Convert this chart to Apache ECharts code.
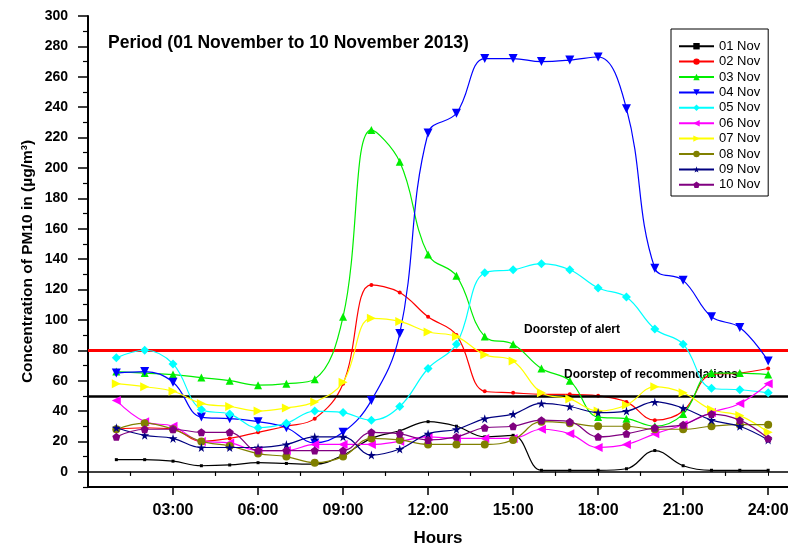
<html>
<head>
    <title>PM10 November 2013</title>
    <script src="https://cdn.jsdelivr.net/npm/echarts@6.0.0/dist/echarts.min.js"></script>
</head>
<body style="margin:0">
    <div id="main" style="width:788px;height:546px;"></div>
    <script type="text/javascript">
        // hourly PM10 readings
        var hours = [1, 2, 3, 4, 5, 6, 7, 8, 9, 10, 11, 12, 13, 14, 15, 16, 17, 18, 19, 20, 21, 22, 23, 24];
        var nov01 = [8, 8, 7, 4, 4.5, 6, 5.5, 5, 11, 22, 27, 33, 30, 23, 24, 1, 1, 1, 2, 14, 4, 1, 1, 1];
        var nov02 = [28, 29, 28, 20, 22, 26, 30, 35, 58, 123, 118, 102, 90, 53, 52, 51, 51, 50, 46, 34, 40, 64, 65, 68];
        var nov03 = [66, 65, 64, 62, 60, 57, 58, 61, 102, 225, 204, 143, 129, 89, 84, 68, 60, 36, 35, 30, 38, 65, 65, 64];
        var nov04 = [65, 66, 59, 36, 35, 33, 29, 19, 26, 47, 91, 223, 236, 272, 272, 270, 271, 273, 239, 134, 126, 102, 95, 73];
        var nov05 = [75, 80, 71, 41, 38, 29, 32, 40, 39, 34, 43, 68, 84, 131, 133, 137, 133, 121, 115, 94, 84, 55, 54, 52];
        var nov06 = [47, 33, 30, 20, 19, 14, 14, 18, 18, 18, 20, 23, 22, 22, 22, 28, 25, 16, 18, 25, 31, 39, 45, 58];
        var nov07 = [58, 56, 53, 45, 43, 40, 42, 46, 59, 101, 99, 92, 89, 77, 73, 52, 48, 40, 44, 56, 52, 41, 37, 26];
        var nov08 = [28, 32, 28, 20, 17, 12, 10, 6, 10, 22, 21, 18, 18, 18, 21, 33, 32, 30, 30, 28, 28, 30, 31, 31];
        var nov09 = [29, 24, 22, 16, 16, 16, 18, 23, 23, 11, 15, 25, 28, 35, 38, 45, 43, 39, 40, 46, 42, 34, 30, 21];
        var nov10 = [23, 28, 28, 26, 26, 14, 14, 14, 14, 26, 25, 21, 23, 29, 30, 34, 33, 23, 25, 29, 31, 38, 34, 22];

        var days = ['01 Nov', '02 Nov', '03 Nov', '04 Nov', '05 Nov', '06 Nov', '07 Nov', '08 Nov', '09 Nov', '10 Nov'];
        var dayValues = [nov01, nov02, nov03, nov04, nov05, nov06, nov07, nov08, nov09, nov10];

        var alertLevel = 80;
        var recommendLevel = 50;

        var yTicks = [0, 20, 40, 60, 80, 100, 120, 140, 160, 180, 200, 220, 240, 260, 280, 300];
        var yMinorTicks = [-10, 10, 30, 50, 70, 90, 110, 130, 150, 170, 190, 210, 230, 250, 270, 290];
        var xTicks = [3, 6, 9, 12, 15, 18, 21, 24];
        var xMinorTicks = [1.5, 4.5, 7.5, 10.5, 13.5, 16.5, 19.5, 22.5];

        var colors = ['#000000', '#ff0000', '#00ee00', '#0000ff', '#00ffff', '#ff00ff', '#ffff00', '#808000', '#000080', '#800080'];
        var star = 'path://M50,0 L61,35 L98,35 L68,57 L79,91 L50,70 L21,91 L32,57 L2,35 L39,35 Z';
        var pentagon = 'path://M50,0 L98,36 L80,95 L20,95 L2,36 Z';
        var symbols = ['rect', 'circle', 'triangle', 'triangle', 'diamond', 'triangle', 'triangle', 'circle', star, pentagon];
        var rotates = [0, 0, 0, 180, 0, 90, -90, 0, 0, 0];
        var sizes = [3, 4, 8, 9, 9, 9, 9, 8, 9, 8];

        var font = 'Arial, "Liberation Sans", sans-serif';

        var series = [];
        for (var i = 0; i < days.length; i++) {
            var pts = [];
            for (var j = 0; j < hours.length; j++) {
                pts.push([hours[j], dayValues[i][j]]);
            }
            series.push({
                name: days[i],
                type: 'line',
                smooth: 0.4,
                data: pts,
                symbol: symbols[i],
                symbolRotate: rotates[i],
                symbolSize: sizes[i],
                showAllSymbol: true,
                itemStyle: { color: colors[i] },
                lineStyle: { color: colors[i], width: 1.2 },
                z: 3 + i
            });
        }
        series[0].markLine = {
            silent: true,
            symbol: 'none',
            label: { show: false },
            data: [
                { yAxis: alertLevel, lineStyle: { color: '#ff0000', width: 3, type: 'solid' } },
                { yAxis: recommendLevel, lineStyle: { color: '#000000', width: 2.5, type: 'solid' } }
            ]
        };

        var myChart = echarts.init(document.getElementById('main'));
        var option = {
            animation: false,
            backgroundColor: '#ffffff',
            grid: { left: 88, right: 0, top: 16, bottom: 59, outerBoundsMode: 'none', containLabel: false },
            legend: {
                data: days,
                orient: 'vertical',
                left: 671,
                top: 29,
                padding: [6, 8, 0, 7],
                itemWidth: 35,
                itemHeight: 8,
                itemGap: -7,
                itemStyle: { borderWidth: 0 },
                borderColor: '#000',
                borderWidth: 1,
                textStyle: { fontFamily: font, fontSize: 13, color: '#000', lineHeight: 13, padding: 0 }
            },
            xAxis: [
                {
                    type: 'value',
                    min: 0,
                    max: 24.7,
                    name: 'Hours',
                    nameLocation: 'middle',
                    nameGap: 37,
                    nameMoveOverlap: false,
                    nameTextStyle: { fontFamily: font, fontSize: 17, fontWeight: 'bold', color: '#000' },
                    axisLine: { onZero: false, lineStyle: { color: '#000', width: 2 } },
                    axisTick: { customValues: xTicks, length: 8, lineStyle: { color: '#000', width: 1.5 } },
                    axisLabel: {
                        customValues: xTicks,
                        margin: 10,
                        fontFamily: font, fontSize: 16, fontWeight: 'bold', color: '#000',
                        formatter: function (v) { return (v < 10 ? '0' : '') + v + ':00'; }
                    },
                    splitLine: { show: false }
                },
                {
                    type: 'value',
                    min: 0,
                    max: 24.7,
                    position: 'bottom',
                    axisLine: { show: false },
                    axisTick: { customValues: xMinorTicks, length: 4, lineStyle: { color: '#000', width: 1.2 } },
                    axisLabel: { show: false },
                    splitLine: { show: false }
                },
                {
                    type: 'value',
                    min: 0,
                    max: 24.7,
                    position: 'top',
                    axisLine: { lineStyle: { color: '#000', width: 1.5 } },
                    axisTick: { inside: true, customValues: xTicks.concat(xMinorTicks), length: 4, lineStyle: { color: '#000', width: 1 } },
                    axisLabel: { show: false },
                    splitLine: { show: false }
                }
            ],
            yAxis: [
                {
                    type: 'value',
                    min: -10,
                    max: 300,
                    name: 'Concentration of PM10 in (\u00b5g/m\u00b3)',
                    nameLocation: 'middle',
                    nameGap: 47,
                    nameMoveOverlap: false,
                    nameTextStyle: { fontFamily: font, fontSize: 15.5, fontWeight: 'bold', color: '#000', padding: [0, 20, 0, 0] },
                    axisLine: { onZero: false, lineStyle: { color: '#000', width: 2 } },
                    axisTick: { customValues: yTicks, length: 10, lineStyle: { color: '#000', width: 1.5 } },
                    axisLabel: {
                        customValues: yTicks,
                        margin: 20,
                        fontFamily: font, fontSize: 14, fontWeight: 'bold', color: '#000'
                    },
                    splitLine: { show: false }
                },
                {
                    type: 'value',
                    min: -10,
                    max: 300,
                    position: 'left',
                    axisLine: { show: false },
                    axisTick: { show: true, customValues: yMinorTicks, length: 5, lineStyle: { color: '#000', width: 1.2 } },
                    axisLabel: { show: false },
                    splitLine: { show: false }
                }
            ],
            graphic: [
                {
                    type: 'text', x: 108, y: 43,
                    style: { text: 'Period (01 November to 10 November 2013)', font: 'bold 17.5px ' + font, fill: '#000', verticalAlign: 'middle' }
                },
                {
                    type: 'text', x: 524, y: 330,
                    style: { text: 'Doorstep of alert', font: 'bold 12px ' + font, fill: '#000', verticalAlign: 'middle' }
                },
                {
                    type: 'text', x: 564, y: 375,
                    style: { text: 'Doorstep of recommendations', font: 'bold 12px ' + font, fill: '#000', verticalAlign: 'middle' }
                }
            ],
            series: series
        };
        myChart.setOption(option);
    </script>
</body>
</html>
